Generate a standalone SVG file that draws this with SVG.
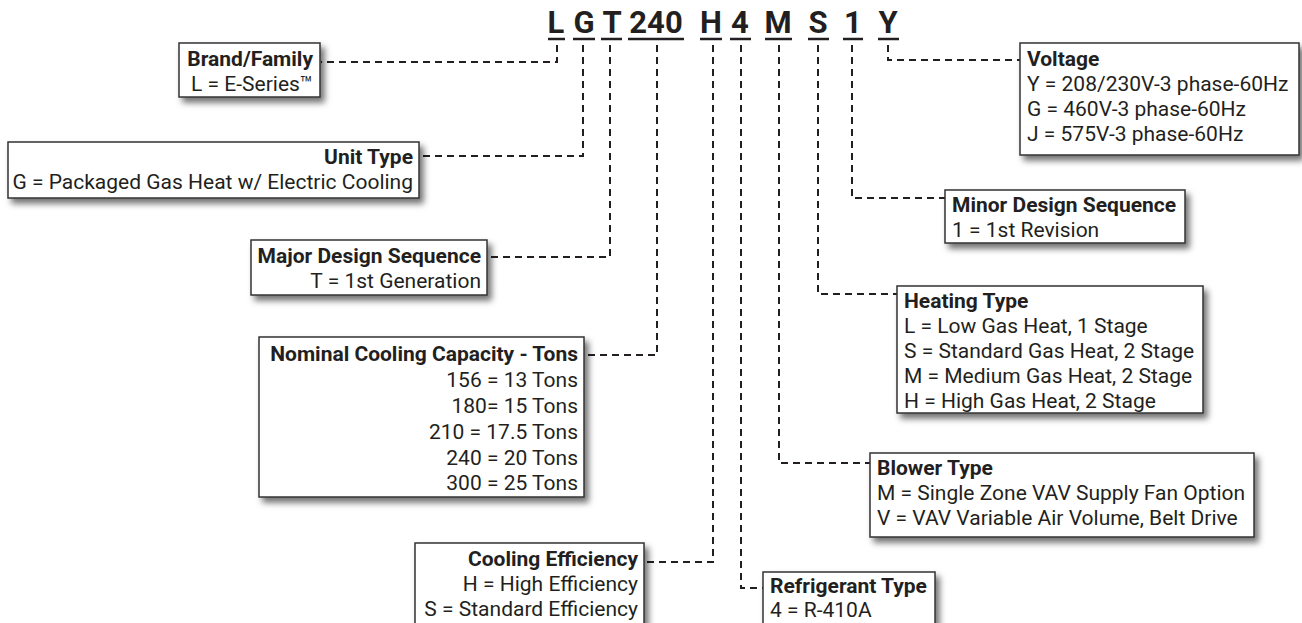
<svg xmlns="http://www.w3.org/2000/svg" width="1302" height="623" viewBox="0 0 1302 623">
<defs>
<filter id="sh" x="-10%" y="-20%" width="130%" height="150%">
<feDropShadow dx="4" dy="5" stdDeviation="3" flood-color="#000" flood-opacity="0.55"/>
</filter>
<style>
.box{fill:#fff;stroke:#333;stroke-width:1.5;filter:url(#sh)}
.t{font-family:Roboto,"Liberation Sans",sans-serif;font-size:21px;fill:#231f20}
.b{font-weight:bold}
.r{text-anchor:end}
.code{font-family:Roboto,"Liberation Sans",sans-serif;font-size:31px;font-weight:bold;fill:#231f20;text-anchor:middle}
.ul{stroke:#231f20;stroke-width:2.5}
.c{fill:none;stroke:#231f20;stroke-width:2;stroke-dasharray:7 5}
</style>
</defs>
<rect width="1302" height="623" fill="#fff"/>
<g id="code">
<text class="code" x="556" y="33">L</text>
<text class="code" x="584" y="33">G</text>
<text class="code" x="612" y="33">T</text>
<text class="code" x="656" y="33">240</text>
<text class="code" x="711" y="33">H</text>
<text class="code" x="740" y="33">4</text>
<text class="code" x="778" y="33">M</text>
<text class="code" x="818" y="33">S</text>
<text class="code" x="853" y="33">1</text>
<text class="code" x="888" y="33">Y</text>
<line class="ul" x1="548" y1="39" x2="565" y2="39"/>
<line class="ul" x1="573" y1="39" x2="595" y2="39"/>
<line class="ul" x1="601" y1="39" x2="622" y2="39"/>
<line class="ul" x1="628" y1="39" x2="684" y2="39"/>
<line class="ul" x1="700" y1="39" x2="722" y2="39"/>
<line class="ul" x1="730" y1="39" x2="751" y2="39"/>
<line class="ul" x1="765" y1="39" x2="792" y2="39"/>
<line class="ul" x1="808" y1="39" x2="829" y2="39"/>
<line class="ul" x1="843" y1="39" x2="863" y2="39"/>
<line class="ul" x1="878" y1="39" x2="899" y2="39"/>
</g>
<g id="connectors">
<path class="c" d="M557 45 V62 H321"/>
<path class="c" d="M583 45 V156 H420"/>
<path class="c" d="M610 45 V257 H488"/>
<path class="c" d="M657 45 V355 H585"/>
<path class="c" d="M713 45 V562 H645"/>
<path class="c" d="M741 45 V588 H763"/>
<path class="c" d="M779 45 V463 H870"/>
<path class="c" d="M818 45 V294 H897"/>
<path class="c" d="M852 45 V198 H945"/>
<path class="c" d="M888 45 V60 H1020"/>
</g>
<g id="brand">
<rect class="box" x="179" y="43" width="141" height="54"/>
<text class="t b r" x="313" y="66">Brand/Family</text>
<text class="t r" x="313" y="91">L = E-Series™</text>
</g>
<g id="unit-type">
<rect class="box" x="8" y="142" width="411" height="56"/>
<text class="t b r" x="413" y="164">Unit Type</text>
<text class="t r" x="413" y="189">G = Packaged Gas Heat w/ Electric Cooling</text>
</g>
<g id="major">
<rect class="box" x="251" y="240" width="236" height="55"/>
<text class="t b r" x="481" y="263">Major Design Sequence</text>
<text class="t r" x="481" y="288">T = 1st Generation</text>
</g>
<g id="nominal">
<rect class="box" x="259" y="337" width="325" height="160"/>
<text class="t b r" x="578" y="361">Nominal Cooling Capacity - Tons</text>
<text class="t r" x="578" y="387">156 = 13 Tons</text>
<text class="t r" x="578" y="413">180= 15 Tons</text>
<text class="t r" x="578" y="439">210 = 17.5 Tons</text>
<text class="t r" x="578" y="465">240 = 20 Tons</text>
<text class="t r" x="578" y="490">300 = 25 Tons</text>
</g>
<g id="cooling-eff">
<rect class="box" x="415" y="543" width="229" height="95"/>
<text class="t b r" x="638" y="566">Cooling Efficiency</text>
<text class="t r" x="638" y="591">H = High Efficiency</text>
<text class="t r" x="638" y="616">S = Standard Efficiency</text>
</g>
<g id="refrigerant">
<rect class="box" x="763" y="572" width="172" height="66"/>
<text class="t b" x="770" y="593">Refrigerant Type</text>
<text class="t" x="770" y="617">4 = R-410A</text>
</g>
<g id="voltage">
<rect class="box" x="1020" y="43" width="279" height="112"/>
<text class="t b" x="1027" y="66">Voltage</text>
<text class="t" x="1027" y="91">Y = 208/230V-3 phase-60Hz</text>
<text class="t" x="1027" y="116">G = 460V-3 phase-60Hz</text>
<text class="t" x="1027" y="141">J = 575V-3 phase-60Hz</text>
</g>
<g id="minor">
<rect class="box" x="945" y="190" width="240" height="53"/>
<text class="t b" x="952" y="212">Minor Design Sequence</text>
<text class="t" x="952" y="237">1 = 1st Revision</text>
</g>
<g id="heating">
<rect class="box" x="897" y="286" width="306" height="127"/>
<text class="t b" x="904" y="308">Heating Type</text>
<text class="t" x="904" y="333">L = Low Gas Heat, 1 Stage</text>
<text class="t" x="904" y="358">S = Standard Gas Heat, 2 Stage</text>
<text class="t" x="904" y="383">M = Medium Gas Heat, 2 Stage</text>
<text class="t" x="904" y="408">H = High Gas Heat, 2 Stage</text>
</g>
<g id="blower">
<rect class="box" x="870" y="453" width="384" height="84"/>
<text class="t b" x="877" y="475">Blower Type</text>
<text class="t" x="877" y="500">M = Single Zone VAV Supply Fan Option</text>
<text class="t" x="877" y="525">V = VAV Variable Air Volume, Belt Drive</text>
</g>
</svg>
